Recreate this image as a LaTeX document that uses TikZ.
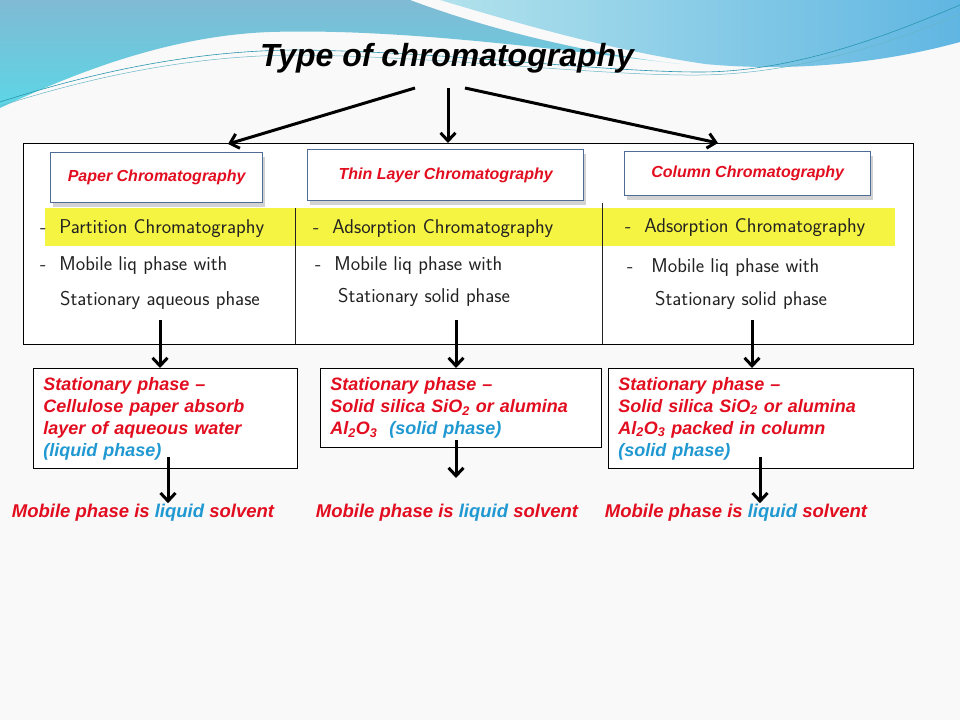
\documentclass[tikz,border=0pt]{standalone}
\usepackage{fontspec}
\setmainfont{Liberation Sans}
\usetikzlibrary{arrows.meta,shadows,calc}
\definecolor{redt}{RGB}{226,14,32}
\definecolor{bluet}{RGB}{32,152,210}
\definecolor{pagebg}{RGB}{249,249,249}
\definecolor{hdrTop}{RGB}{128,186,212}
\definecolor{hdrBot}{RGB}{92,214,230}
\definecolor{hdrR1}{RGB}{178,226,236}
\definecolor{hdrR2}{RGB}{96,182,226}
\definecolor{wave}{RGB}{40,150,175}
\definecolor{boxblue}{RGB}{78,108,150}
\definecolor{hl}{RGB}{246,244,66}
\definecolor{ink}{RGB}{34,34,34}
\tikzset{
  arr/.style={line width=3pt,-{Straight Barb[length=8pt,width=15pt]}},
  titlebox/.style={draw=boxblue,line width=1.4pt,fill=white,anchor=north west,
    drop shadow={opacity=0.35,shadow xshift=2pt,shadow yshift=-4pt},
    text=redt,font=\bfseries\itshape\fontsize{16}{19}\selectfont},
  hand/.style={anchor=base west,text=ink,inner sep=0pt,font=\sffamily\fontsize{20}{22}\selectfont},
  statbox/.style={draw=black,line width=0.8pt,fill=white,anchor=north west,align=left,
    inner xsep=10pt,inner ysep=2pt,text=redt,font=\bfseries\itshape\fontsize{18}{22}\selectfont},
  mobile/.style={text=redt,inner sep=1pt,font=\bfseries\itshape\fontsize{18.5}{21}\selectfont}
}
\newcommand{\bl}[1]{\textcolor{bluet}{#1}}
\begin{document}
\begin{tikzpicture}[x=1pt,y=-1pt]
\useasboundingbox (0,0) rectangle (960,720);
\fill[pagebg] (0,0) rectangle (960,720);
% header waves
\shade[top color=hdrTop,bottom color=hdrBot]
  (0,0) -- (410,0) .. controls (490,30) and (590,54) .. (680,64)
  .. controls (560,50) and (400,28) .. (270,32)
  .. controls (160,36) and (60,80) .. (0,108) -- cycle;
\shade[left color=hdrR1,right color=hdrR2]
  (440,0) -- (960,0) -- (960,42) .. controls (880,64) and (790,72) .. (705,64)
  .. controls (610,50) and (520,24) .. (440,0) -- cycle;
\draw[wave,line width=0.6pt] (0,102) .. controls (100,70) and (200,50) .. (300,50)
  .. controls (450,52) and (600,72) .. (700,72) .. controls (800,72) and (900,30) .. (960,5);
\draw[wave!70!white,line width=0.5pt] (0,106) .. controls (100,74) and (200,55) .. (300,55)
  .. controls (450,57) and (600,76) .. (700,75) .. controls (800,74) and (900,40) .. (960,14);
% title
\node[font=\bfseries\itshape\fontsize{32}{38}\selectfont] (title) at (447,58) {Type of chromatography};
% big image box
\node[draw=black,line width=0.8pt,fill=white,minimum width=890pt,minimum height=201pt,
  anchor=north west,inner sep=0pt] (big) at (23,143) {};
\fill[hl] (45,208) rectangle (895,246);
\draw[ink,line width=0.8pt] (295,208) -- (295,344);
\draw[ink,line width=0.8pt] (602,203) -- (602,344);
\node[titlebox,minimum width=212pt,minimum height=50pt] (pc) at (50,152) {Paper Chromatography};
\node[titlebox,minimum width=276pt,minimum height=51pt] (tlc) at (307,149) {Thin Layer Chromatography};
\node[titlebox,minimum width=246pt,minimum height=44pt] (cc) at (624,151) {Column Chromatography};
% handwritten notes
\node[hand] (h11) at (40,233) {-\hspace{13pt}Partition Chromatography};
\node[hand] (h12) at (40,270) {-\hspace{13pt}Mobile liq phase with};
\node[hand] (h13) at (60,305) {Stationary aqueous phase};
\node[hand] (h21) at (313,233) {-\hspace{13pt}Adsorption Chromatography};
\node[hand] (h22) at (315,270) {-\hspace{13pt}Mobile liq phase with};
\node[hand] (h23) at (338,302) {Stationary solid phase};
\node[hand] (h31) at (625,232) {-\hspace{13pt}Adsorption Chromatography};
\node[hand] (h32) at (627,272) {-\hspace{18pt}Mobile liq phase with};
\node[hand] (h33) at (655,305) {Stationary solid phase};
% title arrows
\coordinate (ts1) at (415,88);
\coordinate (ts2) at (448,88);
\coordinate (ts3) at (465,88);
\draw[arr] (ts1) -- (228,144);
\draw[arr] (ts2) -- (448,143);
\draw[arr] (ts3) -- (718,143);
% stationary boxes
\node[statbox,text width=244pt,minimum height=100pt] (s1) at (33,368)
  {Stationary phase --\\Cellulose paper absorb\\layer of aqueous water\\\bl{(liquid phase)}};
\node[statbox,text width=261pt,minimum height=79pt] (s2) at (320,368)
  {Stationary phase --\\Solid silica SiO\textsubscript{2} or alumina\\Al\textsubscript{2}O\textsubscript{3}\ \ \bl{(solid phase)}};
\node[statbox,text width=285pt,minimum height=100pt] (s3) at (608,368)
  {Stationary phase --\\Solid silica SiO\textsubscript{2} or alumina\\Al\textsubscript{2}O\textsubscript{3} packed in column\\\bl{(solid phase)}};
% arrows from notes to stationary boxes
\coordinate (a1) at (160,320);
\coordinate (a2) at (456,320);
\coordinate (a3) at (752,320);
\draw[arr] (a1) -- (a1 |- s1.north);
\draw[arr] (a2) -- (a2 |- s2.north);
\draw[arr] (a3) -- (a3 |- s3.north);
% mobile phase
\node[mobile] (m1) at (143,513) {Mobile phase is \bl{liquid} solvent};
\node[mobile] (m2) at (447,513) {Mobile phase is \bl{liquid} solvent};
\node[mobile] (m3) at (736,513) {Mobile phase is \bl{liquid} solvent};
\coordinate (b1) at (168,457);
\coordinate (b2) at (456,440);
\coordinate (b3) at (760,457);
\coordinate (e2) at (456,478);
\draw[arr] (b1) -- (b1 |- m1.north);
\draw[arr] (b2) -- (e2);
\draw[arr] (b3) -- (b3 |- m3.north);
\end{tikzpicture}
\end{document}
